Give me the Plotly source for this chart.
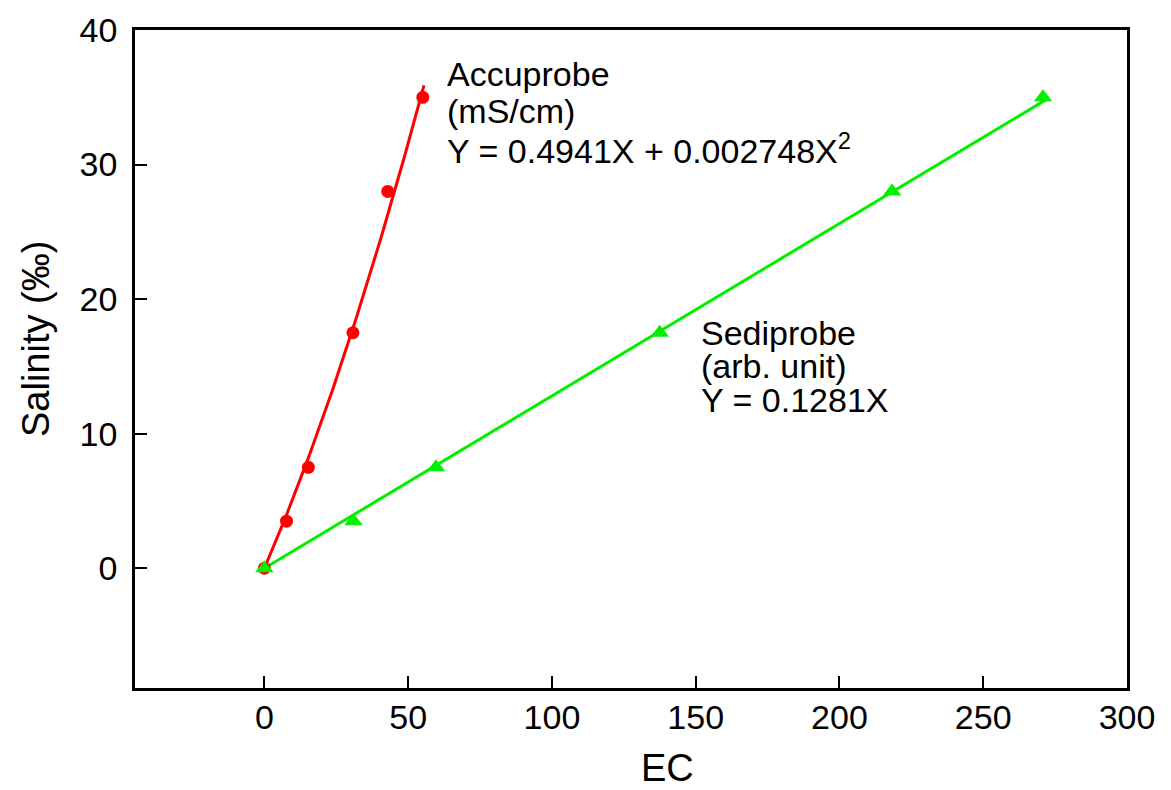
import numpy as np
import plotly.graph_objects as go

# Data
accu_ec = [0, 7.7, 15.3, 30.8, 42.9, 55.1]
accu_sal = [0, 3.5, 7.5, 17.5, 28, 35]
sedi_ec = [0, 31, 59.7, 137.5, 218.3, 270.8]
sedi_sal = [0, 3.5, 7.5, 17.5, 28, 35]

accu_coef = [0.4941, 0.002748]   # Y = aX + bX^2
sedi_coef = [0.1281]             # Y = aX
accu_fit_max = 55.5
sedi_fit_max = 272

x_ticks = [0, 50, 100, 150, 200, 250, 300]
y_ticks = [0, 10, 20, 30, 40]

FONT = "Arial, Liberation Sans, sans-serif"
RED = "#ff0000"
GREEN = "#00f000"

xa = np.linspace(0, accu_fit_max, 100)
ya = accu_coef[0] * xa + accu_coef[1] * xa ** 2
xs = np.array([0, sedi_fit_max])
ys = sedi_coef[0] * xs

fig = go.Figure()
fig.add_trace(go.Scatter(x=xa, y=ya, mode="lines", line=dict(color=RED, width=3), hoverinfo="skip"))
fig.add_trace(go.Scatter(x=xs, y=ys, mode="lines", line=dict(color=GREEN, width=3), hoverinfo="skip"))
fig.add_trace(go.Scatter(x=accu_ec, y=accu_sal, mode="markers",
                         marker=dict(color=RED, size=13, symbol="circle")))
fig.add_trace(go.Scatter(x=sedi_ec, y=sedi_sal, mode="markers",
                         marker=dict(color=GREEN, size=16, symbol="triangle-up")))

axis_common = dict(
    showline=True, linecolor="black", linewidth=2.5, mirror=True,
    ticks="inside", ticklen=12, tickwidth=2, tickcolor="black",
    showgrid=False, zeroline=False, automargin=False,
    tickfont=dict(family=FONT, size=34, color="black"),
)
fig.update_xaxes(range=[-45, 300], tickvals=x_ticks, ticklabelstandoff=-3, **axis_common)
fig.update_yaxes(range=[-8.9, 40], tickvals=y_ticks, ticklabelstandoff=8, **axis_common)

ann = []
def txt(x, y, s, size=34):
    ann.append(dict(x=x, y=y, xref="x", yref="y", text=s, showarrow=False,
                    xanchor="left", yanchor="middle",
                    font=dict(family=FONT, size=size, color="black")))

txt(62.8, 36.7, "Accuprobe")
txt(62.8, 34.0, "(mS/cm)")
txt(62.8, 31.2, "Y = 0.4941X + 0.002748X<sup>2</sup>")
txt(151.1, 17.5, "Sediprobe")
txt(151.1, 15.0, "(arb. unit)")
txt(151.1, 12.5, "Y = 0.1281X")

# page body has an 8px margin: figure occupies window px 8..1171 x 8..790
OFF = 8
W, H = 1171 - OFF, 790 - OFF
pl, pt = 135 - OFF, 30 - OFF
pr = W - (1127 - OFF)
pb = H - (688 - OFF)
pw, ph = W - pl - pr, H - pt - pb

def px(xw):   # window x -> paper x
    return (xw - OFF - pl) / pw
def py(yw):   # window y -> paper y
    return (H - pb - (yw - OFF)) / ph

ann.append(dict(x=px(667), y=py(768), xref="paper", yref="paper", text="EC", showarrow=False,
                font=dict(family=FONT, size=38, color="black"),
                xanchor="center", yanchor="middle"))
ann.append(dict(x=px(36), y=py(339), xref="paper", yref="paper",
                text="Salinity (‰)", textangle=-90, showarrow=False,
                font=dict(family=FONT, size=38, color="black"),
                xanchor="center", yanchor="middle"))
fig.update_layout(annotations=ann)

# pale cyan strip at right edge
fig.add_shape(type="rect", xref="paper", yref="paper",
              x0=px(1166), x1=px(1171), y0=py(790), y1=py(OFF),
              fillcolor="#ccffff", line_width=0, layer="below")

fig.update_layout(
    width=W, height=H,
    margin=dict(l=pl, r=pr, t=pt, b=pb, autoexpand=False),
    paper_bgcolor="white", plot_bgcolor="white",
    showlegend=False,
)
fig.write_html("out.html")
